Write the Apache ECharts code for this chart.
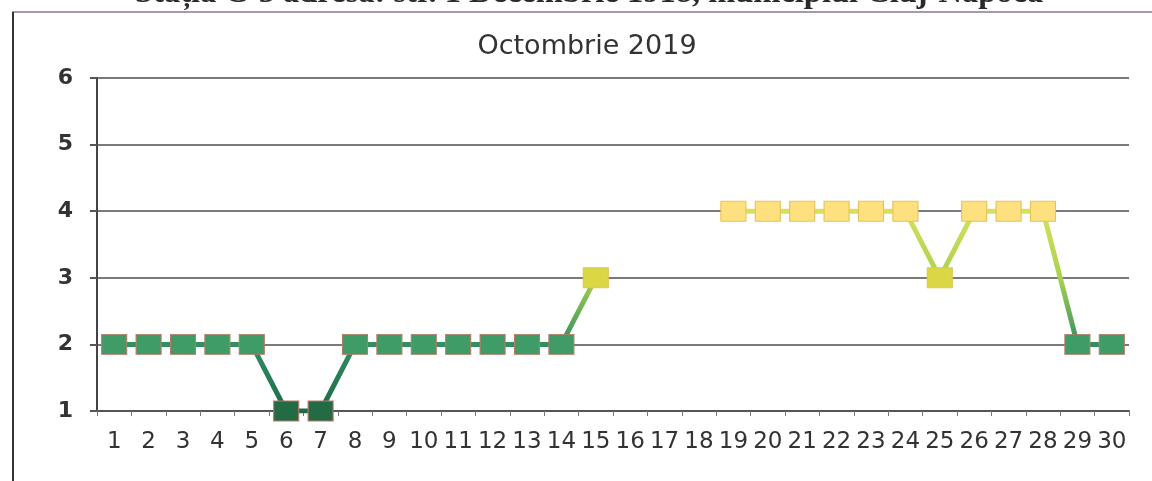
<!DOCTYPE html>
<html>
<head>
<meta charset="utf-8">
<script src="https://cdn.jsdelivr.net/npm/echarts@6/dist/echarts.min.js"></script>
<style>
html,body{margin:0;padding:0;background:#fff;}
#chart{width:1152px;height:481px;}
</style>
</head>
<body>
<div id="chart"></div>
<script>
const headerText = 'Stația C-5 adresa: str. 1 Decembrie 1918, municipiul Cluj-Napoca';
const titleText = 'Octombrie 2019';
const days = ['1','2','3','4','5','6','7','8','9','10','11','12','13','14','15','16','17','18','19','20','21','22','23','24','25','26','27','28','29','30'];
const values = [2,2,2,2,2,1,1,2,2,2,2,2,2,2,3,null,null,null,4,4,4,4,4,4,3,4,4,4,2,2];
const yTicks = [1,2,3,4,5,6];

function fillFor(v){
  if (v === 1) return '#236b45';
  if (v === 2) return '#3f9c66';
  if (v === 3) return '#d9d743';
  return '#ffe07f';
}
function borderFor(v){
  return v >= 3 ? '#e6c25a' : '#b77a68';
}

const chart = echarts.init(document.getElementById('chart'), null, {renderer:'canvas'});
const lineData = values.map(v => v == null ? '-' : v);
const markerData = values.map(v => v == null ? '-' : {
  value: v,
  itemStyle: {color: fillFor(v), borderColor: borderFor(v), borderWidth: 1}
});

chart.setOption({
  animation: false,
  backgroundColor: '#fff',
  title: {
    text: titleText,
    left: 582, top: 28, textAlign: 'center',
    textStyle: {fontFamily: 'DejaVu Sans', fontSize: 27, fontWeight: 'normal', color: '#333'}
  },
  graphic: [
    {type: 'text', left: 135, top: -23, style: {text: headerText, font: 'bold 32.5px "Liberation Serif"', fill: '#2a2a2a'}},
    {type: 'line', shape: {x1: 12, y1: 12, x2: 1152, y2: 12}, style: {stroke: '#a898a8', lineWidth: 2}},
    {type: 'line', shape: {x1: 13, y1: 12, x2: 13, y2: 481}, style: {stroke: '#333', lineWidth: 2}}
  ],
  grid: {left: 97, right: 23, top: 78, bottom: 70, containLabel: false},
  xAxis: {
    type: 'category', data: days, boundaryGap: true,
    axisLine: {lineStyle: {color: '#555', width: 2}},
    axisTick: {show: true, length: 5, lineStyle: {color: '#777'}},
    axisLabel: {interval: 0, margin: 20, color: '#333', fontFamily: 'DejaVu Sans', fontSize: 23}
  },
  yAxis: {
    type: 'value', min: 1, max: 6, interval: 1,
    axisLine: {show: true, lineStyle: {color: '#444', width: 2}},
    axisTick: {show: true, length: 7, lineStyle: {color: '#555', width: 2}},
    axisLabel: {margin: 24, color: '#333', fontFamily: 'DejaVu Sans', fontSize: 22, fontWeight: 'bold'},
    splitLine: {lineStyle: {color: '#7a7a7a', width: 2}}
  },
  visualMap: {
    type: 'continuous', show: false, seriesIndex: 0, dimension: 1, min: 1, max: 4,
    inRange: {color: ['#1f6b48', '#2f9062', '#a8d24e', '#d8e05a']}
  },
  series: [
    {type: 'line', data: lineData, showSymbol: false, connectNulls: false,
     lineStyle: {width: 5}, z: 2},
    {type: 'line', data: markerData, symbol: 'rect', symbolSize: [25, 20],
     lineStyle: {width: 0, opacity: 0}, connectNulls: false, z: 3}
  ]
});
</script>
</body>
</html>
